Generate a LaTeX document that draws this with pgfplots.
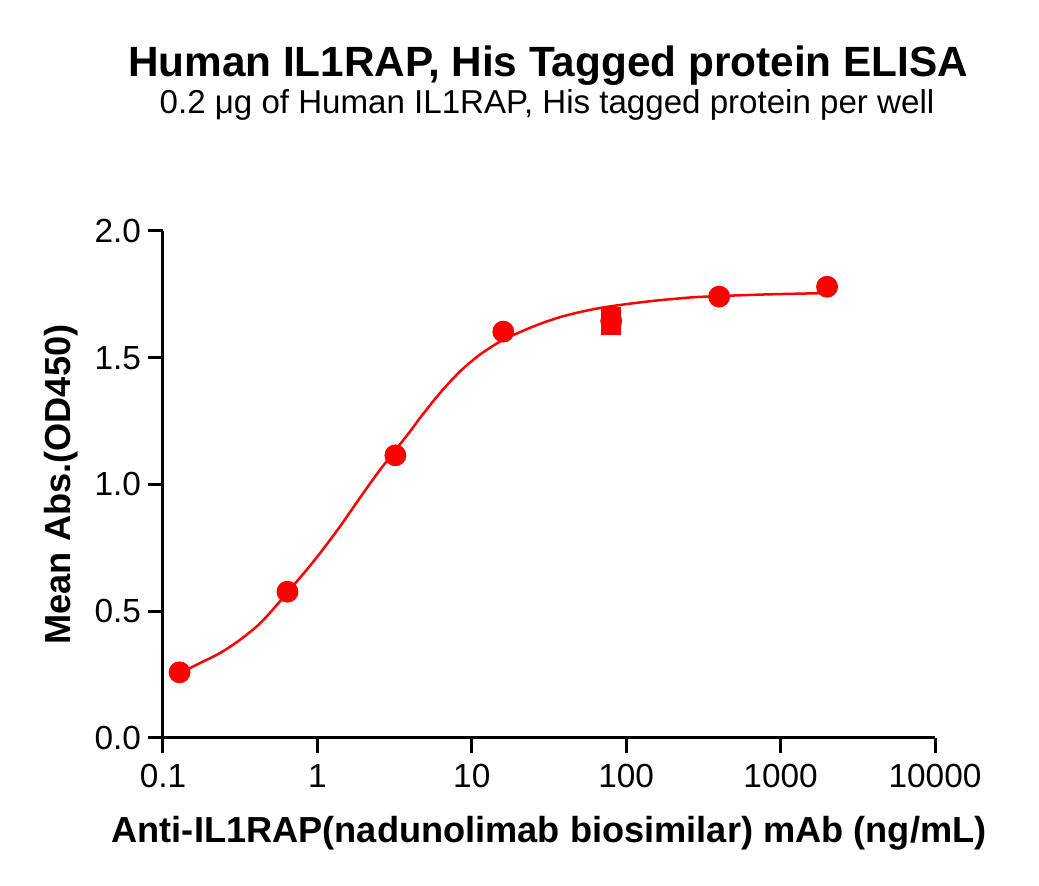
\documentclass[border=0pt]{standalone}
\usepackage{fontspec}
\setmainfont{Liberation Sans}
\usepackage{pgfplots}
\pgfplotsset{compat=1.18}
\begin{document}
\begin{tikzpicture}[x=1pt,y=1pt]
\useasboundingbox (-81.5,-74) rectangle (438,369);
\begin{axis}[
  at={(0,0)}, anchor=south west,
  scale only axis, width=386pt, height=253.5pt,
  xmode=log, xmin=0.1, xmax=10000, ymin=0, ymax=2,
  clip=false,
  axis lines=left,
  axis line style={-, line width=1.5pt, black},
  xtick={0.1,1,10,100,1000,10000},
  xticklabels={0.1,1,10,100,1000,10000},
  ytick={0,0.5,1,1.5,2},
  yticklabels={0.0,0.5,1.0,1.5,2.0},
  xminorticks=false,
  tick align=outside,
  major tick length=7.5pt,
  tick style={line width=1.5pt, black},
  tick label style={font=\fontsize{16.7}{18}\selectfont},
  x tick label style={yshift=-2pt},
  xlabel={Anti-IL1RAP(nadunolimab biosimilar) mAb (ng/mL)},
  ylabel={Mean Abs.(OD450)},
  label style={font=\fontsize{18.1}{20}\selectfont\bfseries},
  xlabel style={at={(axis description cs:0.5,0)}, anchor=base, yshift=-52.5pt},
  ylabel style={at={(axis description cs:0,0.5)}, anchor=base, yshift=46pt},
]
\addplot[red, line width=1.25pt, smooth, no markers] coordinates {
(0.128,0.255) (0.173,0.295) (0.234,0.335) (0.315,0.387) (0.425,0.452)
(0.571,0.538) (0.64,0.574) (0.851,0.663) (1.04,0.729) (1.40,0.834)
(1.88,0.946) (2.54,1.057) (3.97,1.208) (4.60,1.261) (6.21,1.360)
(8.36,1.445) (11.27,1.512) (15.56,1.567) (20.5,1.601) (27.5,1.633)
(37.2,1.660) (50.0,1.680) (67.3,1.696) (90.8,1.708) (122,1.718)
(165,1.727) (222,1.734) (299,1.740) (731,1.749) (1618,1.754) (2000,1.755)
};
\addplot[only marks, mark=square*, mark size=4.75pt, red, mark options={draw=red, fill=red}] coordinates {
(80,1.662) (80,1.628)
};
\addplot[only marks, mark=*, mark size=5.25pt, red, mark options={draw=red, fill=red}] coordinates {
(0.128,0.259) (0.64,0.577) (3.2,1.115) (16,1.603) (80,1.645) (400,1.741) (2000,1.780)
};
\end{axis}
\node[anchor=base, font=\fontsize{21.15}{24}\selectfont\bfseries] at (192.5,330.5) {Human IL1RAP, His Tagged protein ELISA};
\node[anchor=base, font=\fontsize{16.55}{19}\selectfont] at (192,312) {0.2 μg of Human IL1RAP, His tagged protein per well};
\end{tikzpicture}
\end{document}
